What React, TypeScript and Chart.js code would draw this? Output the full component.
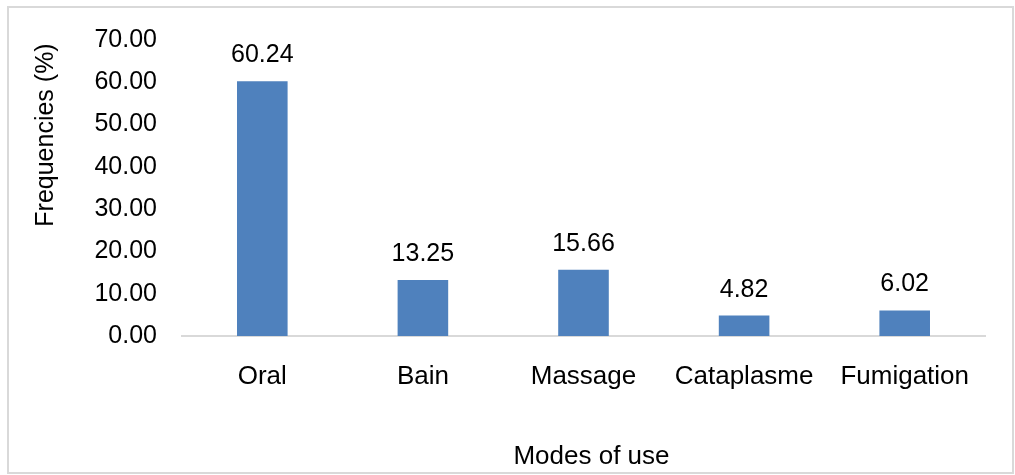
import React, { useEffect, useRef } from "react";
import { Chart, registerables } from "chart.js";

Chart.register(...registerables);

const categories = ["Oral", "Bain", "Massage", "Cataplasme", "Fumigation"];
const frequencies = [60.24, 13.25, 15.66, 4.82, 6.02];
const yTicks = [0, 10, 20, 30, 40, 50, 60, 70];
const xTitle = "Modes of use";
const yTitle = "Frequencies (%)";

const FONT = "'Liberation Sans', Arial, sans-serif";

export default function App() {
  const ref = useRef<HTMLCanvasElement | null>(null);

  useEffect(() => {
    const canvas = ref.current;
    if (!canvas) return;

    const decor = {
      id: "decor",
      beforeDraw(chart: any) {
        const ctx = chart.ctx;
        ctx.save();
        ctx.fillStyle = "#ffffff";
        ctx.fillRect(0, 0, chart.width, chart.height);
        ctx.restore();
      },
      afterDraw(chart: any) {
        const ctx = chart.ctx;
        const area = chart.chartArea;
        ctx.save();
        // outer frame
        ctx.strokeStyle = "#d9d9d9";
        ctx.lineWidth = 2;
        ctx.strokeRect(8, 7, 1005, 466);
        // axis titles
        ctx.fillStyle = "#000000";
        ctx.font = `25px ${FONT}`;
        ctx.textAlign = "center";
        ctx.textBaseline = "middle";
        ctx.save();
        ctx.translate(46, 135);
        ctx.rotate(-Math.PI / 2);
        ctx.fillText(yTitle, 0, 0);
        ctx.restore();
        ctx.font = `26px ${FONT}`;
        ctx.fillText(xTitle, (area.left + area.right) / 2 + 8, 457);
        // data labels
        ctx.font = `25px ${FONT}`;
        const meta = chart.getDatasetMeta(0);
        meta.data.forEach((bar: any, i: number) => {
          ctx.fillText(frequencies[i].toFixed(2), bar.x, bar.y - 26);
        });
        ctx.restore();
      },
    };

    const chart = new Chart(canvas, {
      type: "bar",
      data: {
        labels: categories,
        datasets: [
          {
            data: frequencies,
            backgroundColor: "#4f81bd",
            borderWidth: 0,
            categoryPercentage: 1,
            barPercentage: 0.315,
          },
        ],
      },
      options: {
        responsive: false,
        animation: false,
        devicePixelRatio: 1,
        layout: { padding: { left: 0, top: 36, right: 30, bottom: 0 } },
        plugins: {
          legend: { display: false },
          tooltip: { enabled: false },
          title: { display: false },
        },
        scales: {
          x: {
            grid: { display: false, drawTicks: false },
            border: { display: true, color: "#d9d9d9", width: 2 },
            ticks: {
              color: "#000000",
              font: { family: FONT, size: 26 },
              padding: 25,
              maxRotation: 0,
              autoSkip: false,
            },
            afterFit(scale: any) {
              scale.height = 475 - 336;
            },
          },
          y: {
            min: 0,
            max: 70,
            grid: { display: false, drawTicks: false },
            border: { display: false },
            afterBuildTicks(scale: any) {
              scale.ticks = yTicks.map((v) => ({ value: v }));
            },
            ticks: {
              color: "#000000",
              font: { family: FONT, size: 25 },
              padding: 25,
              callback: (v: any) => Number(v).toFixed(2),
            },
            afterFit(scale: any) {
              scale.width = 182;
            },
          },
        },
      },
      plugins: [decor],
    });

    return () => chart.destroy();
  }, []);

  return (
    <div style={{ position: "absolute", left: 0, top: 0, width: 1015, height: 475, background: "#fff" }}>
      <canvas ref={ref} width={1015} height={475} style={{ display: "block", width: 1015, height: 475 }} />
    </div>
  );
}
